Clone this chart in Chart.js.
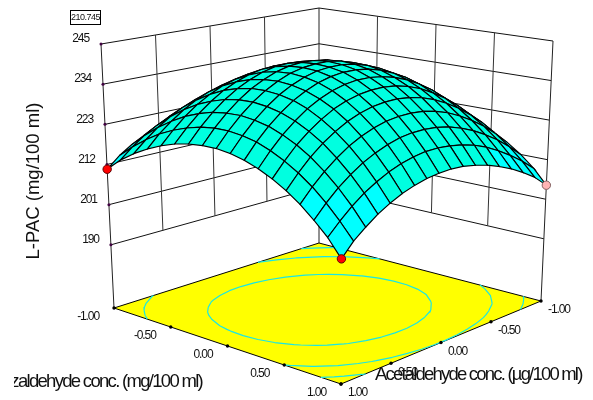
<!DOCTYPE html>
<html>
<head>
<meta charset="utf-8">
<script src="https://cdn.jsdelivr.net/npm/chart.js@4"></script>
<style>
  html, body { margin: 0; padding: 0; background: #fff; }
  #box { width: 593px; height: 400px; }
</style>
</head>
<body>
<div id="box"><canvas id="surfaceChart"></canvas></div>
<script>
// coded levels on both factor axes
const benzLevels = [-1,-0.882,-0.765,-0.647,-0.529,-0.412,-0.294,-0.176,-0.059,0.059,0.176,0.294,0.412,0.529,0.647,0.765,0.882,1];
const acetLevels = [-1,-0.882,-0.765,-0.647,-0.529,-0.412,-0.294,-0.176,-0.059,0.059,0.176,0.294,0.412,0.529,0.647,0.765,0.882,1];

// L-PAC, one row per benzaldehyde level
const lpac = [
  [205.5,208.7,211.5,214.0,216.1,217.9,219.3,220.3,221.0,221.3,221.3,220.9,220.2,219.1,217.6,215.8,213.6,210.7],
  [209.0,212.4,215.4,218.1,220.3,222.2,223.7,224.7,225.4,225.7,225.6,225.2,224.3,223.1,221.4,219.4,217.0,214.2],
  [212.0,215.7,218.8,221.6,224.0,225.9,227.4,228.6,229.2,229.5,229.4,228.8,227.9,226.5,224.7,222.5,219.9,216.9],
  [214.7,218.4,221.7,224.6,227.1,229.1,230.7,231.8,232.5,232.8,232.6,232.0,230.9,229.4,227.5,225.1,222.4,219.1],
  [216.9,220.8,224.2,227.2,229.7,231.8,233.4,234.5,235.2,235.4,235.2,234.5,233.4,231.8,229.8,227.3,224.3,220.9],
  [218.6,222.6,226.1,229.2,231.7,233.8,235.5,236.6,237.3,237.5,237.3,236.5,235.3,233.7,231.5,228.9,225.8,222.3],
  [219.9,224.0,227.6,230.6,233.3,235.4,237.0,238.2,238.8,239.0,238.8,238.0,236.7,235.0,232.8,230.1,226.9,223.2],
  [220.8,224.9,228.5,231.6,234.2,236.4,238.0,239.2,239.8,240.0,239.7,238.9,237.5,235.8,233.5,230.7,227.5,223.7],
  [221.3,225.4,228.9,232.1,234.7,236.8,238.4,239.6,240.2,240.3,240.0,239.2,237.8,236.0,233.7,230.9,227.6,223.8],
  [221.3,225.3,228.9,232.0,234.6,236.7,238.3,239.4,240.0,240.1,239.8,238.9,237.5,235.7,233.3,230.5,227.2,223.4],
  [220.8,224.8,228.4,231.4,234.0,236.0,237.6,238.7,239.3,239.4,239.0,238.1,236.7,234.9,232.5,229.7,226.4,222.5],
  [219.9,223.9,227.3,230.3,232.8,234.8,236.3,237.3,237.9,238.0,237.6,236.7,235.3,233.5,231.1,228.3,225.0,221.2],
  [218.6,222.4,225.7,228.6,231.0,233.0,234.5,235.5,236.0,236.0,235.6,234.7,233.4,231.5,229.2,226.5,223.2,219.5],
  [216.8,220.5,223.7,226.5,228.8,230.7,232.1,233.0,233.5,233.5,233.1,232.2,230.9,229.1,226.9,224.2,221.0,217.4],
  [214.6,218.1,221.2,223.8,226.0,227.8,229.1,230.0,230.4,230.4,230.0,229.1,227.8,226.1,223.9,221.3,218.3,214.8],
  [212.0,215.3,218.2,220.6,222.7,224.3,225.6,226.4,226.8,226.8,226.4,225.5,224.2,222.6,220.5,218.0,215.1,211.7],
  [208.9,212.0,214.6,216.9,218.9,220.4,221.5,222.2,222.6,222.6,222.1,221.3,220.1,218.5,216.6,214.2,211.4,208.3],
  [204.9,208.2,210.6,212.7,214.4,215.8,216.8,217.5,217.8,217.7,217.3,216.5,215.4,213.9,212.1,209.8,207.3,203.9]
];

const zTicks = [190, 201, 212, 223, 234, 245];
const factorTicks = [-1, -0.5, 0, 0.5, 1];
const factorLabels = ['-1.00', '-0.50', '0.00', '0.50', '1.00'];
const contourLevels = [230.5, 218, 210];
const bandLevel = 216.5;
const selectedValue = '210.745';

const zFloor = 172.7;
const zCeil = 245;

// where the eight corners of the plot box land on the page
const floorCorners = { back: [319, 243], left: [114, 308], right: [541, 301], front: [341, 384] };
const topCorners = { back: [319, 8], left: [101, 44], right: [553, 41], front: [342, 94] };

function mix(p, q, t) { return [p[0] + (q[0] - p[0]) * t, p[1] + (q[1] - p[1]) * t]; }

// a = benzaldehyde, b = acetaldehyde, both -1..1
function project(a, b, z) {
  const u = (a + 1) / 2, v = (b + 1) / 2, w = (z - zFloor) / (zCeil - zFloor);
  const bottom = mix(mix(floorCorners.back, floorCorners.right, u), mix(floorCorners.left, floorCorners.front, u), v);
  const top = mix(mix(topCorners.back, topCorners.right, u), mix(topCorners.left, topCorners.front, u), v);
  const p = mix(bottom, top, w);
  return { x: p[0], y: p[1] };
}

function lineSet(data, color, width) {
  return { data, showLine: true, fill: false, borderColor: color, borderWidth: width, pointRadius: 0, tension: 0 };
}

const sets = [];

// back walls
zTicks.forEach(z => {
  sets.push(lineSet([project(-1, 1, z), project(-1, -1, z), project(1, -1, z)], '#111', 1));
});
factorTicks.slice(1, 4).forEach(t => {
  sets.push(lineSet([project(-1, t, zTicks[0]), project(-1, t, zCeil)], '#333', 1));
  sets.push(lineSet([project(t, -1, zTicks[0]), project(t, -1, zCeil)], '#333', 1));
});
sets.push(lineSet([project(-1, 1, zFloor), project(-1, 1, zCeil)], '#222', 1));
sets.push(lineSet([project(1, -1, zFloor), project(1, -1, zCeil)], '#222', 1));
sets.push(lineSet([project(-1, -1, zFloor), project(-1, -1, zCeil)], '#222', 1));

// floor
sets.push({
  data: [project(-1, -1, zFloor), project(1, -1, zFloor), project(1, 1, zFloor), project(-1, 1, zFloor), project(-1, -1, zFloor)],
  showLine: true, fill: 'shape', backgroundColor: '#ffff00', borderColor: '#000', borderWidth: 1, pointRadius: 0, tension: 0
});

// contours on the floor, cut from the lpac table
function crossing(i, j, i2, j2, level) {
  const z1 = lpac[i][j], z2 = lpac[i2][j2];
  if ((z1 < level) === (z2 < level)) return null;
  const t = (level - z1) / (z2 - z1);
  return [benzLevels[i] + (benzLevels[i2] - benzLevels[i]) * t, acetLevels[j] + (acetLevels[j2] - acetLevels[j]) * t];
}
contourLevels.forEach(level => {
  const pts = [];
  for (let i = 0; i < benzLevels.length - 1; i++) {
    for (let j = 0; j < acetLevels.length - 1; j++) {
      const hits = [
        crossing(i, j, i + 1, j, level), crossing(i, j, i, j + 1, level),
        crossing(i + 1, j, i + 1, j + 1, level), crossing(i, j + 1, i + 1, j + 1, level)
      ].filter(Boolean);
      if (hits.length >= 2) {
        pts.push(project(hits[0][0], hits[0][1], zFloor), project(hits[1][0], hits[1][1], zFloor), { x: NaN, y: NaN });
      }
    }
  }
  sets.push(lineSet(pts, '#19e6e6', 1.2));
});

// axis ticks
sets.push({
  data: zTicks.map(z => project(-1, 1, z)), showLine: false,
  pointRadius: 1.5, pointBackgroundColor: '#400040', pointBorderWidth: 0
});
sets.push({
  data: factorTicks.map(t => project(t, 1, zFloor)).concat(factorTicks.map(t => project(1, -t, zFloor))), showLine: false,
  pointRadius: 1.7, pointBackgroundColor: '#000', pointBorderWidth: 0
});

// the surface itself, far cells first
for (let i = 0; i < benzLevels.length - 1; i++) {
  for (let j = 0; j < acetLevels.length - 1; j++) {
    const mean = (lpac[i][j] + lpac[i + 1][j] + lpac[i + 1][j + 1] + lpac[i][j + 1]) / 4;
    const first = project(benzLevels[i], acetLevels[j], lpac[i][j]);
    sets.push({
      data: [first, project(benzLevels[i + 1], acetLevels[j], lpac[i + 1][j]),
        project(benzLevels[i + 1], acetLevels[j + 1], lpac[i + 1][j + 1]),
        project(benzLevels[i], acetLevels[j + 1], lpac[i][j + 1]), first],
      showLine: true, fill: 'shape', backgroundColor: mean < bandLevel ? '#00ffff' : '#00ffe0',
      borderColor: '#000', borderWidth: 1.15, pointRadius: 0, tension: 0
    });
  }
}

// design points at the surface corners
const last = benzLevels.length - 1;
sets.push({
  data: [project(-1, 1, lpac[0][last]), project(1, 1, lpac[last][last]), project(1, -1, lpac[last][0])],
  showLine: false, pointRadius: 4.2,
  pointBackgroundColor: ['#ff0000', '#ff0000', '#ffb4b4'], pointBorderColor: ['#600000', '#600000', '#806060'], pointBorderWidth: 1
});

const labelPlugin = {
  id: 'labels',
  afterDraw(chart) {
    const ctx = chart.ctx;
    const put = (text, x, y, align, size, spacing) => {
      ctx.font = size + 'px "Liberation Sans"';
      ctx.letterSpacing = spacing + 'px';
      ctx.textAlign = align;
      ctx.textBaseline = 'middle';
      ctx.fillStyle = '#111';
      ctx.fillText(text, x, y);
    };
    ctx.save();
    zTicks.forEach(z => {
      const p = project(-1, 1, z);
      put(String(z), p.x - 12, p.y - 5, 'right', 12, -1.1);
    });
    factorTicks.forEach((t, k) => {
      const p = project(t, 1, zFloor);
      put(factorLabels[k], p.x - 15, p.y + 9, 'right', 12, -1.1);
      const q = project(1, t, zFloor);
      put(factorLabels[k], q.x + 7, q.y + 9, 'left', 12, -1.1);
    });

    // the original cuts this title off on its left side
    ctx.save();
    ctx.beginPath();
    ctx.rect(14, 365, 200, 30);
    ctx.clip();
    put('Benzaldehyde conc. (mg/100 ml)', 202, 382, 'right', 18.5, -1.7);
    ctx.restore();
    put('Acetaldehyde conc. (\u00b5g/100 ml)', 375, 375, 'left', 18.5, -1.8);

    ctx.fillStyle = '#fff';
    ctx.fillRect(70.5, 10.5, 30, 14);
    ctx.strokeStyle = '#000';
    ctx.lineWidth = 1;
    ctx.strokeRect(70.5, 10.5, 30, 14);
    put(selectedValue, 85.5, 17.5, 'center', 9, -0.5);

    ctx.translate(34, 181);
    ctx.rotate(-Math.PI / 2);
    put('L-PAC (mg/100 ml)', 0, 0, 'center', 18.5, 0);
    ctx.restore();
  }
};

new Chart(document.getElementById('surfaceChart'), {
  type: 'scatter',
  data: { datasets: sets.reverse() },
  plugins: [labelPlugin],
  options: {
    responsive: true,
    maintainAspectRatio: false,
    animation: false,
    events: [],
    layout: { padding: 0, autoPadding: false },
    plugins: { legend: { display: false }, tooltip: { enabled: false } },
    scales: {
      x: { type: 'linear', min: 0, max: 593, display: false },
      y: { type: 'linear', min: 0, max: 400, reverse: true, display: false }
    }
  }
});
</script>
</body>
</html>
